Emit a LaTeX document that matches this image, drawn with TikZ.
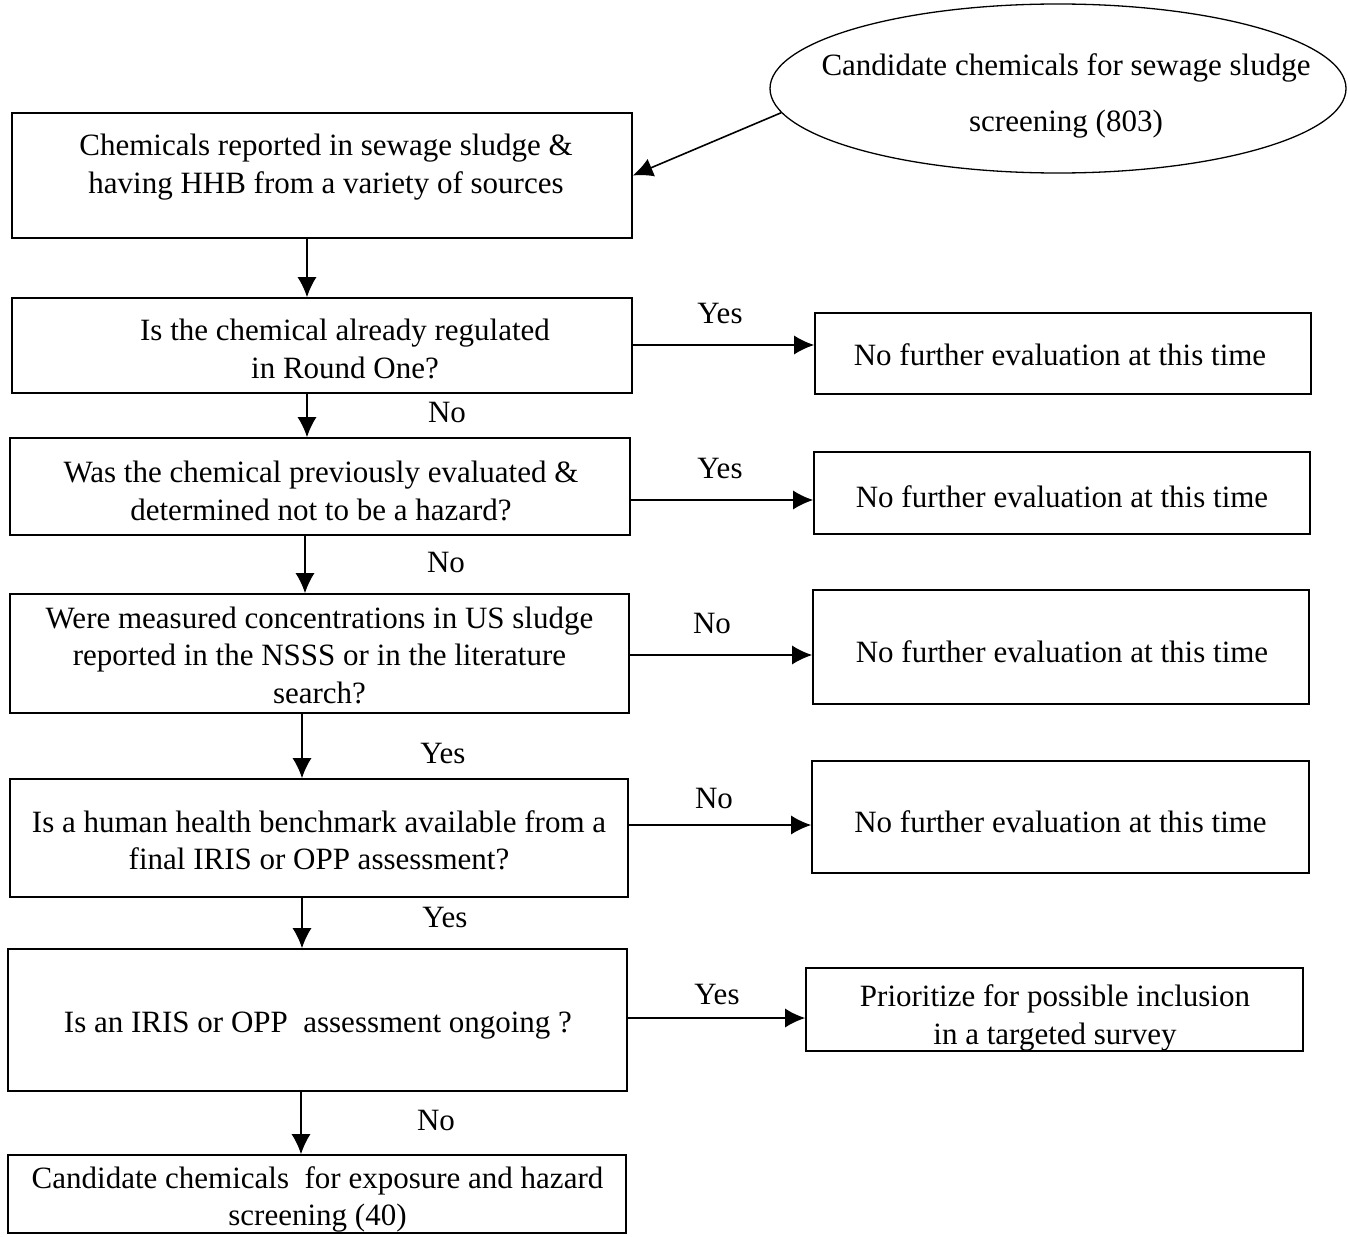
\documentclass[tikz,border=0pt]{standalone}
\usepackage{fontspec}
\setmainfont{Liberation Serif}
\usetikzlibrary{arrows.meta,shapes.geometric}
\begin{document}
\begin{tikzpicture}[x=1pt,y=-1pt,
  box/.style={draw,line width=1.6pt,rectangle,inner sep=0pt},
  lbl/.style={font=\fontsize{31}{37.5}\selectfont,inner sep=0pt,align=center},
  arr/.style={line width=1.6pt,-{Latex[length=20pt,width=19pt]}}]
\useasboundingbox (0,0) rectangle (1348,1236);

% start ellipse
\node[draw,ellipse,line width=1.3pt,minimum width=576pt,minimum height=169pt,inner sep=0pt] (e) at (1058,88.5) {};
\node[lbl,font=\fontsize{31}{56}\selectfont] (te) at (1066,96) {Candidate chemicals for sewage sludge\\screening (803)};

% left column
\node[box,minimum width=620pt,minimum height=125pt] (b1) at (322,175.5) {};
\node[lbl] (t1) at (326,167) {Chemicals reported in sewage sludge \&\\having HHB from a variety of sources};

\node[box,minimum width=620pt,minimum height=95pt] (b2) at (322,345.5) {};
\node[lbl] (t2) at (345,349) {Is the chemical already regulated\\in Round One?};

\node[box,minimum width=620pt,minimum height=97pt] (b3) at (320,486.5) {};
\node[lbl] (t3) at (321,491) {Was the chemical previously evaluated \&\\determined not to be a hazard?};

\node[box,minimum width=619pt,minimum height=119pt] (b4) at (319.5,653.5) {};
\node[lbl] (t4) at (319.5,655) {Were measured concentrations in US sludge\\reported in the NSSS or in the literature\\search?};

\node[box,minimum width=618pt,minimum height=118pt] (b5) at (319,838) {};
\node[lbl] (t5) at (319,840.5) {Is a human health benchmark available from a\\final IRIS or OPP assessment?};

\node[box,minimum width=619pt,minimum height=142pt] (b6) at (317.5,1020) {};
\node[lbl] (t6) at (318,1026) {Is an IRIS or OPP~ assessment ongoing ?};

\node[box,minimum width=618pt,minimum height=78pt] (b7) at (317,1194) {};
\node[lbl] (t7) at (317.5,1199.5) {Candidate chemicals~ for exposure and hazard\\screening (40)};

% right column
\node[box,minimum width=496pt,minimum height=81pt] (r2) at (1063,353.5) {};
\node[lbl] (s2) at (1060,354.5) {No further evaluation at this time};
\node[box,minimum width=496pt,minimum height=82pt] (r3) at (1062,493) {};
\node[lbl] (s3) at (1062,497) {No further evaluation at this time};
\node[box,minimum width=496pt,minimum height=114pt] (r4) at (1061,647) {};
\node[lbl] (s4) at (1062,652) {No further evaluation at this time};
\node[box,minimum width=497pt,minimum height=112pt] (r5) at (1060.5,817) {};
\node[lbl] (s5) at (1060.5,822) {No further evaluation at this time};
\node[box,minimum width=497pt,minimum height=83pt] (r6) at (1054.5,1009.5) {};
\node[lbl] (s6) at (1055,1018) {Prioritize for possible inclusion\\in a targeted survey};

% connectors
\draw[arr] (e.185) -- (b1.east);
\draw[arr] (b1.south -| 307,0) -- (b2.north -| 307,0);
\draw[arr] (b2.south -| 307,0) -- (b3.north -| 307,0);
\draw[arr] (b3.south -| 305,0) -- (b4.north -| 305,0);
\draw[arr] (b4.south -| 302,0) -- (b5.north -| 302,0);
\draw[arr] (b5.south -| 302,0) -- (b6.north -| 302,0);
\draw[arr] (b6.south -| 301,0) -- (b7.north -| 301,0);

\draw[arr] (b2.east |- 0,345) -- (r2.west |- 0,345);
\draw[arr] (b3.east |- 0,500) -- (r3.west |- 0,500);
\draw[arr] (b4.east |- 0,655) -- (r4.west |- 0,655);
\draw[arr] (b5.east |- 0,825) -- (r5.west |- 0,825);
\draw[arr] (b6.east |- 623,1018) -- (r6.west |- 0,1018);

% labels
\node[lbl] (y2) at (720,313) {Yes};
\node[lbl] (n2) at (447,412) {No};
\node[lbl] (y3) at (720,468) {Yes};
\node[lbl] (n3) at (446,562) {No};
\node[lbl] (n4) at (712,623) {No};
\node[lbl] (y4) at (443,753) {Yes};
\node[lbl] (n5) at (714,798) {No};
\node[lbl] (y5) at (445,917) {Yes};
\node[lbl] (y6) at (717,994) {Yes};
\node[lbl] (n6) at (436,1120) {No};
\end{tikzpicture}
\end{document}
